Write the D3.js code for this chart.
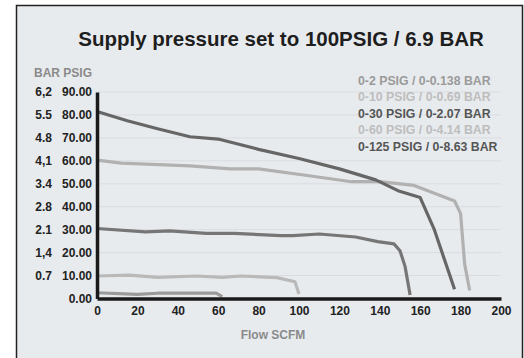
<!DOCTYPE html>
<html>
<head>
<meta charset="utf-8">
<script src="https://cdn.jsdelivr.net/npm/d3@7"></script>
<style>
  html, body { margin: 0; padding: 0; background: #ffffff; }
  svg { display: block; font-family: "Liberation Sans", Arial, Helvetica, sans-serif; }
</style>
</head>
<body>
<svg id="chart" width="524" height="358"></svg>
<script>
// Flow (SCFM) vs. outlet pressure (PSIG) for each regulator range
const seriesNames = [
  "0-2 PSIG / 0-0.138 BAR",
  "0-10 PSIG / 0-0.69 BAR",
  "0-30 PSIG / 0-2.07 BAR",
  "0-60 PSIG / 0-4.14 BAR",
  "0-125 PSIG / 0-8.63 BAR"
];
const range2 = [[0,2.5],[20,1.8],[30,2.3],[46,2.3],[59,2.3],[62,0.8]];
const range10 = [[0,9.8],[16,10.2],[30,9.2],[49,9.8],[62,9.2],[71,9.8],[89,9.1],[98,7.3],[100,2]];
const range30 = [[0,30.5],[24,29],[36,29.5],[54,28.4],[68,28.4],[91,27.4],[97,27.4],[110,28.1],[128,26.8],[139,24.8],[147,23.8],[150,20.8],[152.5,14],[155,1.5]];
const range60 = [[0,60.3],[12,59],[46,57.8],[66,56.5],[80,56.5],[105,53.5],[126,50.9],[140,50.9],[157,49.3],[177,42.5],[180,37],[182,15],[184.5,3.5]];
const range125 = [[0,81.5],[15,77.5],[30,74],[46,70.5],[60,69.5],[80,65],[100,61],[120,56.5],[138,51.7],[149,47],[160,44],[167,30],[177,4]];

const xTicks = [0,20,40,60,80,100,120,140,160,180,200];
const psigTicks = [0,10,20,30,40,50,60,70,80,90];
const barLabels = ["", "0.7", "1,4", "2.1", "2.8", "3.4", "4,1", "4.8", "5.5", "6,2"];

const lineColors = ["#9a9a9a", "#b9b9b9", "#767676", "#b1b1b1", "#666666"];
const legendColors = ["#9a9a9a", "#bdbdbd", "#555555", "#bdbdbd", "#555555"];
const seriesData = [range2, range10, range30, range60, range125];

const svg = d3.select("#chart");

// panel with frame
svg.append("rect")
  .attr("x", 16.5).attr("y", 5.5)
  .attr("width", 506).attr("height", 360)
  .attr("fill", "#e8ebee")
  .attr("stroke", "#222").attr("stroke-width", 1.5);

const x = d3.scaleLinear().domain([0, 200]).range([97, 501]);
const y = d3.scaleLinear().domain([0, 90]).range([298.5, 92]);

// title
svg.append("text")
  .attr("x", 281).attr("y", 45.5)
  .attr("text-anchor", "middle")
  .attr("font-size", 20.5).attr("font-weight", "bold")
  .attr("fill", "#1e1e1e")
  .text("Supply pressure set to 100PSIG / 6.9 BAR");

// horizontal grid
svg.append("g")
  .selectAll("line")
  .data(psigTicks.filter(d => d > 0))
  .join("line")
  .attr("x1", x(0)).attr("x2", x(200))
  .attr("y1", d => y(d)).attr("y2", d => y(d))
  .attr("stroke", "#d9dce0").attr("stroke-width", 1);

// legend
svg.append("g")
  .selectAll("text")
  .data(seriesNames)
  .join("text")
  .attr("x", 358)
  .attr("y", (d, i) => 84.5 + i * 16.5)
  .attr("font-size", 12.3).attr("font-weight", "bold")
  .attr("fill", (d, i) => legendColors[i])
  .text(d => d);

// series lines
const line = d3.line().x(d => x(d[0])).y(d => y(d[1]));
svg.append("g")
  .selectAll("path")
  .data(seriesData)
  .join("path")
  .attr("d", line)
  .attr("fill", "none")
  .attr("stroke", (d, i) => lineColors[i])
  .attr("stroke-width", 3.2)
  .attr("stroke-linejoin", "round");

// x axis
const xAxis = svg.append("g")
  .attr("transform", `translate(0,${y(0)})`)
  .call(d3.axisBottom(x).tickValues(xTicks).tickSize(0).tickPadding(8).tickFormat(d3.format("d")));
xAxis.select(".domain").attr("stroke", "#1a1a1a").attr("stroke-width", 3.5);
xAxis.selectAll("text")
  .attr("font-size", 12).attr("font-weight", "bold").attr("fill", "#222")
  .attr("font-family", "Liberation Sans, Arial, sans-serif");

// y axis (PSIG)
const yAxis = svg.append("g")
  .attr("transform", `translate(${x(0)},0)`)
  .call(d3.axisLeft(y).tickValues(psigTicks).tickSize(0).tickPadding(5).tickFormat(d3.format(".2f")));
yAxis.select(".domain").attr("stroke", "#1a1a1a").attr("stroke-width", 3.5);
yAxis.selectAll("text")
  .attr("font-size", 12).attr("font-weight", "bold").attr("fill", "#222")
  .attr("font-family", "Liberation Sans, Arial, sans-serif");

// y axis (BAR equivalents)
const barAxis = svg.append("g")
  .attr("transform", "translate(52,0)")
  .call(d3.axisLeft(y).tickValues(psigTicks).tickSize(0).tickPadding(0)
    .tickFormat((d, i) => barLabels[i]));
barAxis.select(".domain").remove();
barAxis.selectAll("text")
  .attr("font-size", 12).attr("font-weight", "bold").attr("fill", "#222")
  .attr("font-family", "Liberation Sans, Arial, sans-serif");

// axis unit captions
svg.append("text")
  .attr("x", 92).attr("y", 76.5)
  .attr("text-anchor", "end")
  .attr("font-size", 12).attr("font-weight", "bold").attr("fill", "#8a8a8a")
  .text("BAR PSIG");

svg.append("text")
  .attr("x", 273).attr("y", 339)
  .attr("text-anchor", "middle")
  .attr("font-size", 12).attr("font-weight", "bold").attr("fill", "#8a8a8a")
  .text("Flow SCFM");
</script>
</body>
</html>
